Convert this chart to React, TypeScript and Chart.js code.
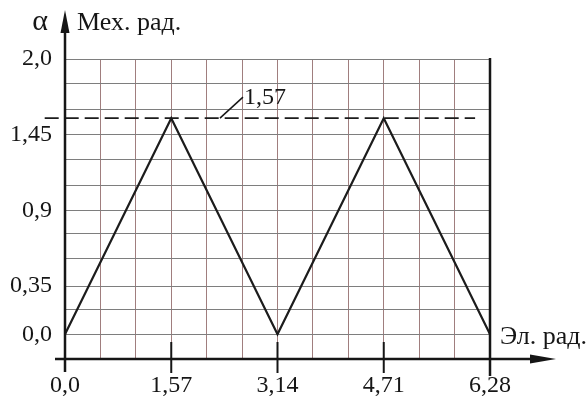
import React, { useEffect, useRef } from "react";
import { Chart, registerables } from "chart.js";

Chart.register(...registerables);

// Electrical angle (rad) vs mechanical angle (rad)
const elAngles = [0, 1.57, 3.14, 4.71, 6.28];
const mechAngles = [0, 1.57, 0, 1.57, 0];

// Peak level marked with a dashed reference line
const peakLevel = 1.57;
const peakLineX = [-0.3, 6.06];
const peakLabelAnchorX = 2.29;

// Axis ticks
const xMax = 6.28;
const xGridValues = Array.from({ length: 13 }, (_, k) => (k * xMax) / 12);
const xLabelValues = [0, 1.57, 3.14, 4.71, 6.28];
const xLabelTexts = ["0,0", "1,57", "3,14", "4,71", "6,28"];

const yGridValues = [-0.18, 0, 0.18, 0.35, 0.55, 0.73, 0.9, 1.08, 1.27, 1.45, 1.63, 1.82, 2.0];
const yLabelValues = [0, 0.35, 0.9, 1.45, 2.0];
const yLabelTexts = ["0,0", "0,35", "0,9", "1,45", "2,0"];

const FONT_FAMILY = "'Liberation Serif', 'Times New Roman', serif";
const FONT_SIZE = 24;
const TITLE_SIZE = 26;
const INK = "#161616";

function labelFor(values: number[], texts: string[], v: number): string {
  const i = values.findIndex((w) => Math.abs(w - v) < 1e-6);
  return i >= 0 ? texts[i] : "";
}

const axesPlugin = {
  id: "axesAndNotes",
  afterDatasetsDraw(chart: any) {
    const { ctx, chartArea, scales } = chart;
    const xs = scales.x;
    const ys = scales.y;
    const x0 = xs.getPixelForValue(0);
    const yAxis = ys.getPixelForValue(yGridValues[0]);
    ctx.save();
    ctx.strokeStyle = INK;
    ctx.fillStyle = INK;
    ctx.lineCap = "butt";

    // vertical axis with arrow
    ctx.lineWidth = 2.5;
    ctx.beginPath();
    ctx.moveTo(x0, yAxis + 13);
    ctx.lineTo(x0, 30);
    ctx.stroke();
    ctx.beginPath();
    ctx.moveTo(x0, 10);
    ctx.lineTo(x0 - 4.5, 33);
    ctx.lineTo(x0 + 4.5, 33);
    ctx.closePath();
    ctx.fill();

    // horizontal axis with arrow
    ctx.beginPath();
    ctx.moveTo(x0 - 10, yAxis);
    ctx.lineTo(chartArea.right + 42, yAxis);
    ctx.stroke();
    ctx.beginPath();
    ctx.moveTo(chartArea.right + 66, yAxis);
    ctx.lineTo(chartArea.right + 40, yAxis - 4.5);
    ctx.lineTo(chartArea.right + 40, yAxis + 4.5);
    ctx.closePath();
    ctx.fill();

    // right border of the grid
    ctx.lineWidth = 2.5;
    ctx.beginPath();
    ctx.moveTo(chartArea.right, chartArea.top - 1);
    ctx.lineTo(chartArea.right, yAxis + 17);
    ctx.stroke();

    // tick marks at the labelled electrical angles
    ctx.lineWidth = 2;
    xLabelValues.slice(1, -1).forEach((v) => {
      const px = xs.getPixelForValue(v);
      ctx.beginPath();
      ctx.moveTo(px, yAxis - 17);
      ctx.lineTo(px, yAxis + 14);
      ctx.stroke();
    });

    // peak value note with leader
    const ax = xs.getPixelForValue(peakLabelAnchorX);
    const ay = ys.getPixelForValue(peakLevel);
    ctx.lineWidth = 1.5;
    ctx.beginPath();
    ctx.moveTo(ax, ay);
    ctx.lineTo(ax + 23, ay - 21);
    ctx.stroke();
    ctx.font = `${FONT_SIZE}px ${FONT_FAMILY}`;
    ctx.textBaseline = "alphabetic";
    ctx.textAlign = "left";
    ctx.fillText("1,57", ax + 24, ay - 14);

    // axis titles
    ctx.font = `${TITLE_SIZE}px ${FONT_FAMILY}`;
    ctx.fillText("Мех. рад.", x0 + 12, 30);
    ctx.fillText("Эл. рад.", chartArea.right + 10, yAxis - 15);
    ctx.textAlign = "center";
    ctx.font = `30px ${FONT_FAMILY}`;
    ctx.fillText("α", x0 - 25, 30);
    ctx.restore();
  },
};

export default function App() {
  const canvasRef = useRef<HTMLCanvasElement | null>(null);

  useEffect(() => {
    const canvas = canvasRef.current;
    if (!canvas) return;
    const font = { family: FONT_FAMILY, size: FONT_SIZE, lineHeight: 1.2 };
    const chart = new Chart(canvas, {
      type: "line",
      data: {
        datasets: [
          {
            data: elAngles.map((x, i) => ({ x, y: mechAngles[i] })),
            borderColor: "#1c1c1c",
            borderWidth: 2.2,
            borderJoinStyle: "miter",
            pointRadius: 0,
            tension: 0,
            clip: false as any,
          },
          {
            data: peakLineX.map((x) => ({ x, y: peakLevel })),
            borderColor: "#1c1c1c",
            borderWidth: 1.6,
            borderDash: [14, 6],
            pointRadius: 0,
            clip: false as any,
          },
        ],
      },
      options: {
        responsive: false,
        animation: false,
        devicePixelRatio: 1,
        layout: { padding: { top: 59, right: 98, bottom: 0, left: 0 } },
        plugins: { legend: { display: false }, tooltip: { enabled: false } },
        scales: {
          x: {
            type: "linear",
            min: 0,
            max: xMax,
            afterBuildTicks: (s: any) => {
              s.ticks = xGridValues.map((value) => ({ value }));
            },
            afterFit: (s: any) => {
              s.height = 37;
            },
            ticks: {
              autoSkip: false,
              maxRotation: 0,
              padding: 12.5,
              font,
              color: INK,
              callback: (v: any) => labelFor(xLabelValues, xLabelTexts, Number(v)),
            },
            grid: {
              drawTicks: false,
              lineWidth: 1,
              color: (c: any) => {
                const i = c.index;
                return i === 0 || i === xGridValues.length - 1 ? "rgba(0,0,0,0)" : "#a07e7e";
              },
            },
            border: { display: false },
          },
          y: {
            type: "linear",
            min: yGridValues[0],
            max: 2.0,
            afterBuildTicks: (s: any) => {
              s.ticks = yGridValues.map((value) => ({ value }));
            },
            afterFit: (s: any) => {
              s.width = 65;
            },
            ticks: {
              autoSkip: false,
              padding: 13,
              font,
              color: INK,
              callback: (v: any) => labelFor(yLabelValues, yLabelTexts, Number(v)),
            },
            grid: {
              drawTicks: false,
              lineWidth: 1,
              color: (c: any) => (c.index === 0 ? "rgba(0,0,0,0)" : "#7e7e7e"),
            },
            border: { display: false },
          },
        },
      },
      plugins: [axesPlugin],
    } as any);
    return () => chart.destroy();
  }, []);

  return (
    <div style={{ position: "absolute", left: 0, top: 0, width: 588, height: 396, background: "#fff" }}>
      <canvas ref={canvasRef} width={588} height={396} />
    </div>
  );
}
